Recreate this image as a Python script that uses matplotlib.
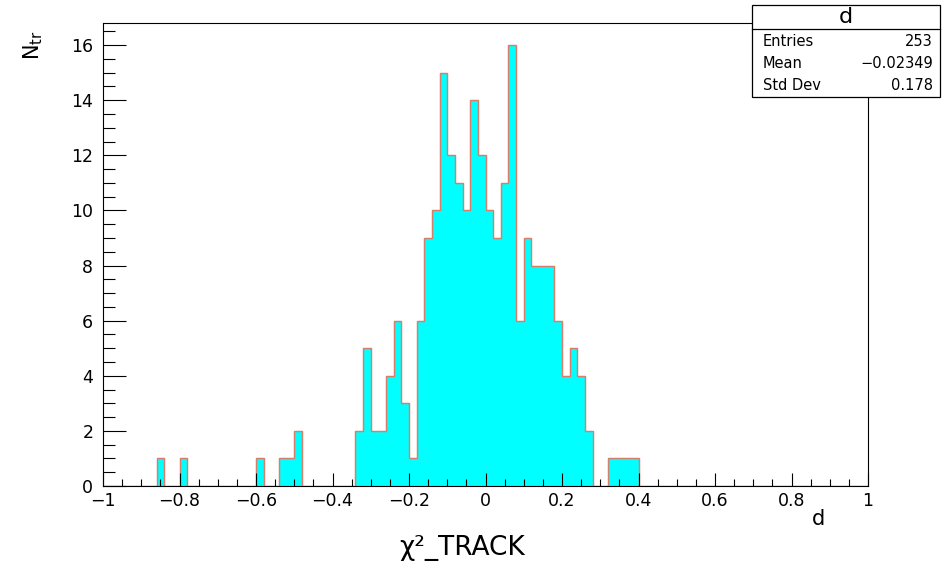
import numpy as np
import matplotlib
matplotlib.use("Agg")
import matplotlib.pyplot as plt
from matplotlib.patches import Rectangle
from matplotlib.ticker import MultipleLocator, FixedLocator

# ---- data ----
bin_lo, bin_hi, n_bins = -1.0, 1.0, 100
# non-zero bin contents keyed by bin lower edge
bin_left_edges = [-0.86, -0.80, -0.60, -0.54, -0.52, -0.50,
                  -0.34, -0.32, -0.30, -0.28, -0.26, -0.24, -0.22, -0.20,
                  -0.18, -0.16, -0.14, -0.12, -0.10, -0.08, -0.06, -0.04,
                  -0.02, 0.00, 0.02, 0.04, 0.06, 0.08, 0.10, 0.12, 0.14,
                  0.16, 0.18, 0.20, 0.22, 0.24, 0.26,
                  0.32, 0.34, 0.36, 0.38]
bin_counts = [1, 1, 1, 1, 1, 2,
              2, 5, 2, 2, 4, 6, 3, 1,
              6, 9, 10, 15, 12, 11, 10, 14,
              12, 10, 9, 11, 16, 6, 9, 8, 8,
              8, 6, 4, 5, 4, 2,
              1, 1, 1, 1]
stats_title = "d"
stats_labels = ["Entries", "Mean", "Std Dev"]
stats_values = ["253", "\u22120.02349", "0.178"]
x_tick_values = [-1, -0.8, -0.6, -0.4, -0.2, 0, 0.2, 0.4, 0.6, 0.8, 1]
x_tick_labels = ["\u22121", "\u22120.8", "\u22120.6", "\u22120.4", "\u22120.2", "0",
                 "0.2", "0.4", "0.6", "0.8", "1"]
y_tick_values = [0, 2, 4, 6, 8, 10, 12, 14, 16]

edges = np.linspace(bin_lo, bin_hi, n_bins + 1)
counts = np.zeros(n_bins)
for e, c in zip(bin_left_edges, bin_counts):
    idx = int(round((e - bin_lo) / ((bin_hi - bin_lo) / n_bins)))
    counts[idx] = c

plt.rcParams['font.family'] = ['DejaVu Sans']

fig = plt.figure(figsize=(9.47, 5.65), dpi=100)
ax = fig.add_axes([103/947, 1 - 486/565, (868 - 103)/947, (486 - 23)/565])

ax.stairs(counts, edges, fill=True, facecolor='#00ffff', edgecolor='#d4806c',
          linewidth=0.9, baseline=0)
ax.stairs(counts, edges, fill=False, edgecolor='#d4806c', linewidth=0.9, baseline=0)

ax.set_xlim(bin_lo, bin_hi)
ax.set_ylim(0, 16.8)
ax.xaxis.set_major_locator(FixedLocator(x_tick_values))
ax.set_xticklabels(x_tick_labels)
ax.xaxis.set_minor_locator(MultipleLocator(0.05))
ax.yaxis.set_major_locator(FixedLocator(y_tick_values))
ax.yaxis.set_minor_locator(MultipleLocator(0.5))
ax.tick_params(which='both', direction='in', top=False, right=False,
               labelsize=12.5, color='black', width=0.8)
ax.tick_params(axis='x', which='major', length=9.4, pad=4.5)
ax.tick_params(axis='x', which='minor', length=5)
ax.tick_params(axis='y', which='major', length=16.5, pad=7)
ax.tick_params(axis='y', which='minor', length=8.6)
for s in ax.spines.values():
    s.set_linewidth(0.8)

# axis titles
fig.text(818/947, 1 - 519/565, "d", ha='center', va='center', fontsize=15)
fig.text(33/947, 1 - 45/565, r"N$_{\mathregular{tr}}$", rotation=90,
         ha='center', va='center', fontsize=15)
fig.text(462/947, 1 - 548/565, "\u03c7\u00b2_TRACK", ha='center', va='center',
         fontsize=19)

# stats box
bx0, bx1 = 752/947, 940/947
by0, by1 = 1 - 97/565, 1 - 5/565
fig.patches.append(Rectangle((bx0, by0), bx1 - bx0, by1 - by0, transform=fig.transFigure,
                             facecolor='white', edgecolor='black', linewidth=0.9, zorder=5))
fig.lines.append(plt.Line2D([bx0, bx1], [1 - 29/565] * 2, transform=fig.transFigure,
                            color='black', linewidth=0.9, zorder=6))
fig.text((bx0 + bx1) / 2, 1 - 17/565, stats_title, ha='center', va='center',
         fontsize=16, zorder=7)
for i, (lab, val) in enumerate(zip(stats_labels, stats_values)):
    yy = 1 - (41 + i * 22.5)/565
    fig.text(763/947, yy, lab, ha='left', va='center', fontsize=10.5, zorder=7)
    fig.text(933/947, yy, val, ha='right', va='center', fontsize=10.5, zorder=7)

fig.savefig("out.png", dpi=100)
